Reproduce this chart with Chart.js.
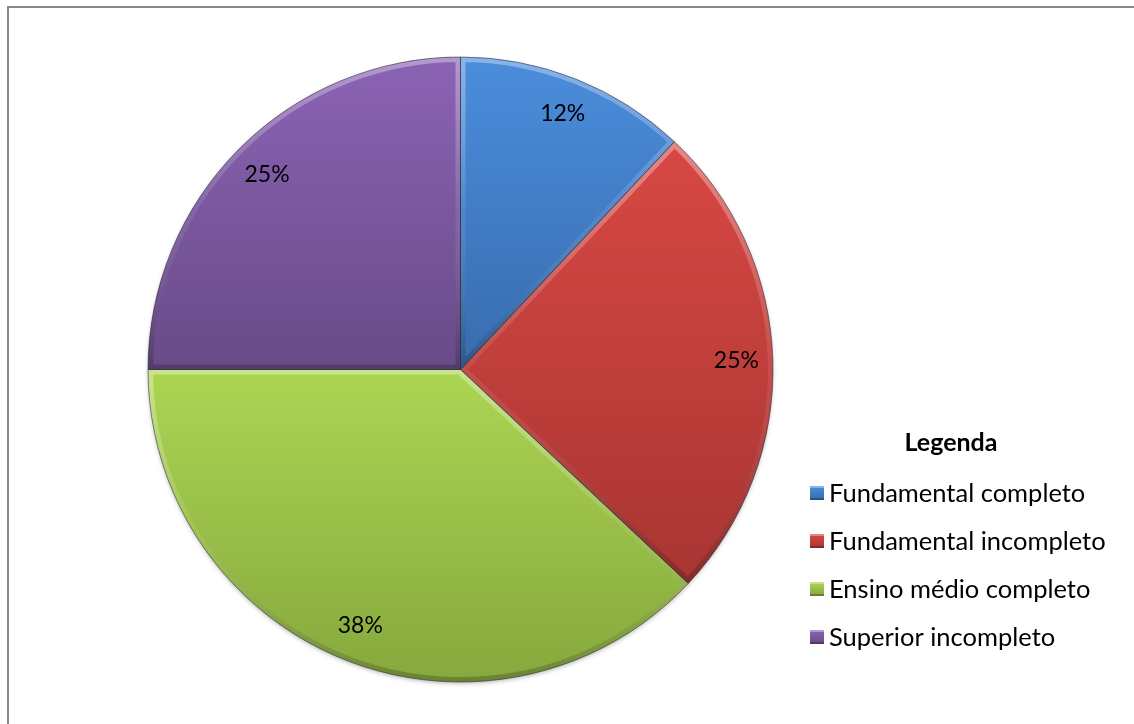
<!DOCTYPE html>
<html>
<head>
<meta charset="utf-8">
<script src="https://cdn.jsdelivr.net/npm/chart.js@4.4.1/dist/chart.umd.min.js"></script>
<style>
  html, body { margin: 0; padding: 0; background: #ffffff; }
  #wrap { position: relative; width: 1134px; height: 724px; overflow: hidden; }
  #frame { position: absolute; left: 7px; top: 6px; width: 1200px; height: 800px;
           border: 2px solid #878787; box-sizing: border-box; }
  canvas { position: absolute; left: 0; top: 0; }
</style>
</head>
<body>
<div id="wrap">
  <div id="frame"></div>
  <canvas id="chart" width="1134" height="724"></canvas>
</div>
<script>
// Escolaridade dos entrevistados (%)
const categories = ['Fundamental completo', 'Fundamental incompleto', 'Ensino médio completo', 'Superior incompleto'];
const percentages = [12, 25, 38, 25];
const legendTitle = 'Legenda';

// light (top) / dark (bottom) tones for each slice
const lightTones = ['#4b8ddc', '#d84844', '#acd553', '#8b63b4'];
const darkTones  = ['#386cae', '#a83532', '#86a83d', '#684b88'];

const FONT = 'Lato, "Open Sans", sans-serif';

function sliceBounds(el) {
  const { y, startAngle, endAngle, outerRadius } = el.getProps(['y', 'startAngle', 'endAngle', 'outerRadius'], true);
  let minY = y, maxY = y;
  const steps = 40;
  for (let i = 0; i <= steps; i++) {
    const a = startAngle + (endAngle - startAngle) * i / steps;
    const py = y + Math.sin(a) * outerRadius;
    minY = Math.min(minY, py); maxY = Math.max(maxY, py);
  }
  return { minY, maxY };
}

function slicePath(ctx, el) {
  const { x, y, startAngle, endAngle, outerRadius } = el.getProps(['x', 'y', 'startAngle', 'endAngle', 'outerRadius'], true);
  ctx.beginPath();
  ctx.moveTo(x, y);
  ctx.arc(x, y, outerRadius, startAngle, endAngle);
  ctx.closePath();
}

const sliceShading = {
  id: 'sliceShading',
  beforeDatasetsDraw(chart) {
    const ctx = chart.ctx;
    const meta = chart.getDatasetMeta(0);
    // soft shadow under the pie
    const first = meta.data[0];
    if (first) {
      ctx.save();
      ctx.shadowColor = 'rgba(0,0,0,0.35)';
      ctx.shadowBlur = 5;
      ctx.shadowOffsetY = 2;
      ctx.beginPath();
      ctx.arc(first.x, first.y, first.outerRadius - 1, 0, Math.PI * 2);
      ctx.fillStyle = '#888';
      ctx.fill();
      ctx.restore();
    }
    meta.data.forEach((el, i) => {
      const b = sliceBounds(el);
      const g = ctx.createLinearGradient(0, b.minY, 0, b.maxY);
      g.addColorStop(0, lightTones[i]);
      g.addColorStop(1, darkTones[i]);
      el.options.backgroundColor = g;
    });
  },
  afterDatasetsDraw(chart) {
    const ctx = chart.ctx;
    const meta = chart.getDatasetMeta(0);
    meta.data.forEach((el) => {
      const b = sliceBounds(el);
      ctx.save();
      slicePath(ctx, el);
      ctx.clip();
      const g = ctx.createLinearGradient(0, b.minY, 0, b.maxY);
      g.addColorStop(0, 'rgba(255,255,255,0.35)');
      g.addColorStop(0.5, 'rgba(255,255,255,0.08)');
      g.addColorStop(1, 'rgba(0,0,0,0.22)');
      ctx.lineWidth = 10;
      ctx.lineJoin = 'miter';
      ctx.strokeStyle = g;
      slicePath(ctx, el);
      ctx.stroke();
      ctx.restore();
      ctx.save();
      slicePath(ctx, el);
      ctx.lineWidth = 1;
      ctx.strokeStyle = 'rgba(40,40,60,0.55)';
      ctx.stroke();
      ctx.restore();
    });
  }
};

const sliceLabels = {
  id: 'sliceLabels',
  afterDatasetsDraw(chart) {
    const ctx = chart.ctx;
    const meta = chart.getDatasetMeta(0);
    const values = chart.data.datasets[0].data;
    ctx.save();
    ctx.font = '23px ' + FONT;
    ctx.fillStyle = '#000';
    ctx.textAlign = 'center';
    ctx.textBaseline = 'middle';
    meta.data.forEach((el, i) => {
      const mid = (el.startAngle + el.endAngle) / 2;
      const r = el.outerRadius * 0.88;
      ctx.fillText(values[i] + '%', el.x + Math.cos(mid) * r + 1, el.y + Math.sin(mid) * r);
    });
    ctx.restore();
  }
};

const sideLegend = {
  id: 'sideLegend',
  afterDraw(chart) {
    const ctx = chart.ctx;
    const labels = chart.data.labels;
    ctx.save();
    ctx.fillStyle = '#000';
    ctx.font = 'bold 25px ' + FONT;
    ctx.textAlign = 'center';
    ctx.textBaseline = 'middle';
    ctx.fillText(legendTitle, 951, 443);
    ctx.font = '25.5px ' + FONT;
    ctx.textAlign = 'left';
    labels.forEach((lab, i) => {
      const cy = 493 + i * 48;
      const bx = 810, by = cy - 7, s = 14;
      const g = ctx.createLinearGradient(0, by, 0, by + s);
      g.addColorStop(0, lightTones[i]);
      g.addColorStop(1, darkTones[i]);
      ctx.fillStyle = g;
      ctx.fillRect(bx, by, s, s);
      ctx.fillStyle = 'rgba(255,255,255,0.35)';
      ctx.fillRect(bx, by, s, 2);
      ctx.fillStyle = 'rgba(0,0,0,0.25)';
      ctx.fillRect(bx, by + s - 2, s, 2);
      ctx.fillStyle = '#000';
      ctx.fillText(lab, 829, cy + 1);
    });
    ctx.restore();
  }
};

new Chart(document.getElementById('chart'), {
  type: 'pie',
  data: {
    labels: categories,
    datasets: [{
      data: percentages,
      backgroundColor: lightTones,
      borderWidth: 0
    }]
  },
  options: {
    responsive: false,
    animation: false,
    layout: { padding: { left: 148, right: 361, top: 57, bottom: 42 } },
    plugins: {
      legend: { display: false },
      tooltip: { enabled: false }
    }
  },
  plugins: [sliceShading, sliceLabels, sideLegend]
});
</script>
</body>
</html>
